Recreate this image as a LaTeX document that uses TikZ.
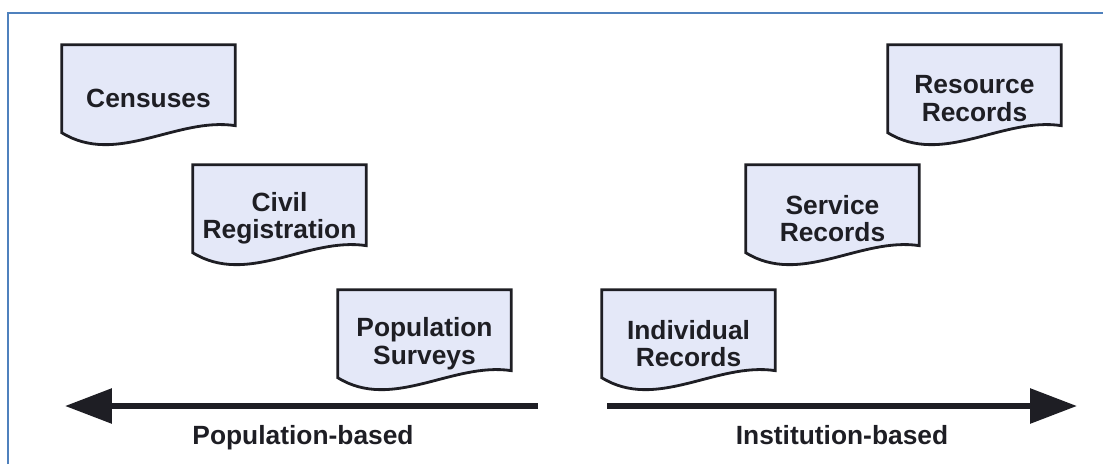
\documentclass[tikz,border=0pt]{standalone}
\usepackage{fontspec}
\setmainfont{Liberation Sans}
\usepackage{tikz}
\usetikzlibrary{arrows.meta, calc, backgrounds}
\definecolor{Ink}{HTML}{1E1E24}
\definecolor{Frame}{HTML}{4F81BD}
\definecolor{Paper}{HTML}{E4E8F8}

% outline of a record sheet with a wavy lower edge
\newcommand{\recordsheet}[1]{%
  \draw[outline] ($(#1.north west)+(0,88)$) -- (#1.north west) -- (#1.north east)
    -- ($(#1.north east)+(0,81)$)
    .. controls ($(#1.north west)+(115,72)$) and ($(#1.north west)+(55,122)$) .. ($(#1.north west)+(0,88)$) -- cycle;}

\begin{document}
\begin{tikzpicture}[
  x=0.02cm, y=-0.02cm,
  font=\fontsize{15}{15.6}\selectfont\bfseries,
  record/.style={minimum width=3.46cm, minimum height=2.14cm, inner sep=0pt, align=center, text=Ink},
  outline/.style={draw=Ink, line width=1.6pt, fill=Paper, line join=miter},
  arrow/.style={-{Triangle[length=0.94cm, width=0.68cm]}, line width=3.4pt, draw=Ink},
  tag/.style={text=Ink, anchor=base}
]
\useasboundingbox (0,0) rectangle (1103,464);
\draw[Frame, line width=1.2pt] (8,464) -- (8,13) -- (1103,13);

\node[record] (censuses) at (148.5,98.5) {Censuses};
\node[record] (civil) at (279.5,218.5) {Civil\\Registration};
\node[record] (surveys) at (424.5,343.5) {Population\\Surveys};
\node[record] (individual) at (688.5,343.5) {Individual\\Records};
\node[record] (service) at (832.5,218.5) {Service\\Records};
\node[record] (resource) at (974.5,98.5) {Resource\\Records};

\begin{scope}[on background layer]
\recordsheet{censuses}
\recordsheet{civil}
\recordsheet{surveys}
\recordsheet{individual}
\recordsheet{service}
\recordsheet{resource}
\end{scope}

\coordinate (popfrom) at (538,406);
\coordinate (popto) at (65,406);
\coordinate (instfrom) at (607,406);
\coordinate (instto) at (1077,406);
\draw[arrow] (popfrom) -- (popto);
\draw[arrow] (instfrom) -- (instto);

\node[tag] (popbased) at (303,444) {Population-based};
\node[tag] (instbased) at (842,444) {Institution-based};
\end{tikzpicture}
\end{document}
